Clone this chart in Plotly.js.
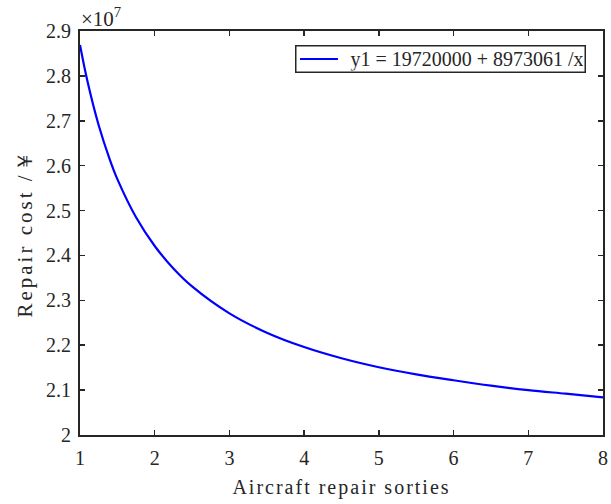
<!DOCTYPE html>
<html>
<head>
<meta charset="utf-8">
<script src="https://cdn.plot.ly/plotly-3.0.1.min.js"></script>
<style>
html,body{margin:0;padding:0;background:#fff;}
#chart{width:611px;height:504px;}
#chart .g-xtitle text{letter-spacing:2px;}
#chart .g-ytitle text{letter-spacing:3px;}
</style>
</head>
<body>
<div id="chart"></div>
<script>
// Readings from the picture (x = sorties, y = repair cost in yuan)
const sorties = [1, 1.1, 1.25, 1.4, 1.5, 1.75, 2, 2.25, 2.5, 3, 3.5, 4, 4.5, 5, 5.5, 6, 6.5, 7, 7.5, 8];
const repairCost = [28690000, 27880000, 26900000, 26130000, 25700000, 24850000, 24210000, 23710000, 23310000, 22710000, 22280000, 21960000, 21710000, 21510000, 21350000, 21220000, 21100000, 21000000, 20920000, 20840000];
const seriesName = 'y1 = 19720000 + 8973061 /x';
const xTicks = [1, 2, 3, 4, 5, 6, 7, 8];
const yTickValues = [20000000, 21000000, 22000000, 23000000, 24000000, 25000000, 26000000, 27000000, 28000000, 29000000];
const yTickLabels = ['2', '2.1', '2.2', '2.3', '2.4', '2.5', '2.6', '2.7', '2.8', '2.9'];

const axisColor = '#262626';
const lineColor = '#0000ff';
const font = 'Liberation Serif, DejaVu Serif, serif';

const trace = {
  x: sorties, y: repairCost, name: seriesName, type: 'scatter', mode: 'lines',
  line: {color: lineColor, width: 2.2, shape: 'spline', smoothing: 1},
  showlegend: false
};

// legend box (MATLAB style): framed label plus a line sample
const legendY = 0.9307;
const layout = {
  width: 611, height: 504,
  margin: {l: 80, r: 8, t: 31, b: 69},
  paper_bgcolor: '#ffffff', plot_bgcolor: '#ffffff',
  font: {family: font, size: 20, color: axisColor},
  showlegend: false,
  xaxis: {
    range: [1, 8], tickvals: xTicks, ticktext: xTicks.map(String),
    ticks: 'inside', ticklen: 5, tickwidth: 1.5, tickcolor: axisColor,
    showline: true, linecolor: axisColor, linewidth: 2, mirror: 'ticks',
    showgrid: false, zeroline: false, ticklabelstandoff: 4,
    tickfont: {family: font, size: 20, color: axisColor},
    title: {text: 'Aircraft repair sorties', font: {family: font, size: 20, color: axisColor}, standoff: 12}
  },
  yaxis: {
    range: [20000000, 29000000], tickvals: yTickValues, ticktext: yTickLabels,
    ticks: 'inside', ticklen: 5, tickwidth: 1.5, tickcolor: axisColor,
    showline: true, linecolor: axisColor, linewidth: 2, mirror: 'ticks',
    showgrid: false, zeroline: false, ticklabelstandoff: 3,
    tickfont: {family: font, size: 20, color: axisColor},
    title: {text: 'Repair cost /￥', font: {family: font, size: 21, color: axisColor}, standoff: 8}
  },
  shapes: [{
    type: 'line', xref: 'paper', yref: 'paper',
    x0: 0.4207, x1: 0.4933, y0: legendY, y1: legendY,
    line: {color: lineColor, width: 2.2}
  }],
  annotations: [{
    xref: 'paper', yref: 'paper', x: 0.411, y: legendY, xanchor: 'left', yanchor: 'middle',
    width: 286, align: 'right', text: seriesName, showarrow: false,
    bordercolor: axisColor, borderwidth: 1.5, borderpad: 1, bgcolor: 'rgba(255,255,255,0)',
    font: {family: font, size: 20, color: axisColor}
  }, {
    xref: 'paper', yref: 'paper', x: 0, y: 1, xanchor: 'left', yanchor: 'bottom',
    text: '×10<sup>7</sup>', showarrow: false, xshift: -1, yshift: -2,
    font: {family: font, size: 21, color: axisColor}
  }]
};

Plotly.newPlot('chart', [trace], layout, {displayModeBar: false, staticPlot: true});
</script>
</body>
</html>
